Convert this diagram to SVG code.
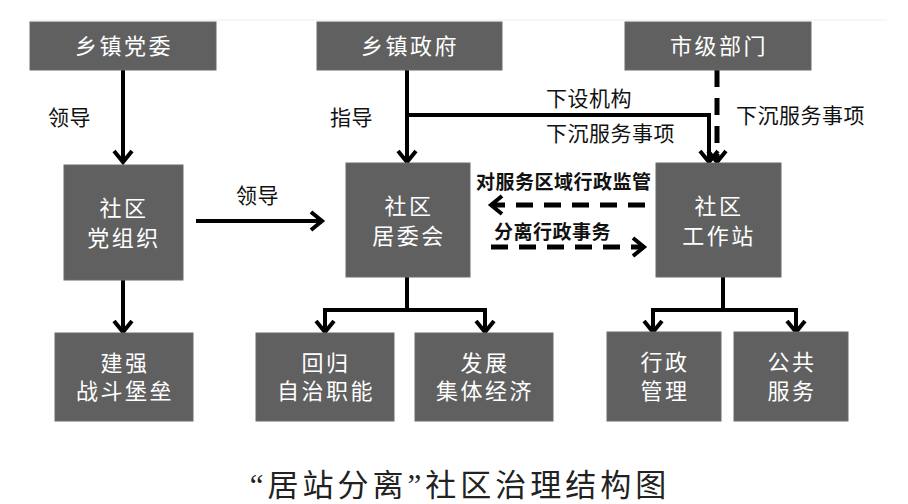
<svg xmlns="http://www.w3.org/2000/svg" width="908" height="504" viewBox="0 0 908 504">
<style>
.box{fill:#606060;stroke:#6a6a6a;stroke-width:1}
.bt{fill:#ffffff;font-family:"Liberation Sans","Noto Sans CJK SC",sans-serif;font-size:22px;letter-spacing:2.5px;text-anchor:middle;dominant-baseline:central}
.lb{fill:#111;font-family:"Liberation Sans","Noto Sans CJK SC",sans-serif;font-size:21px;letter-spacing:0.5px;dominant-baseline:central}
.lbs{fill:#111;font-family:"Liberation Sans","Noto Sans CJK SC",sans-serif;font-size:19px;letter-spacing:0.5px;font-weight:bold;dominant-baseline:central}
.ln{fill:none;stroke:#000;stroke-width:4}
.dl{fill:none;stroke:#000;stroke-width:5;stroke-dasharray:17 11}
.cap{fill:#222;font-family:"Liberation Serif","Noto Sans CJK SC",serif;font-size:31px;letter-spacing:4px;text-anchor:middle;dominant-baseline:central}
</style>
<defs>
<marker id="ah" markerUnits="userSpaceOnUse" markerWidth="24" markerHeight="24" viewBox="0 0 24 24" refX="15" refY="12" orient="auto">
<path d="M4,3 L15,12 L4,21" fill="none" stroke="#000" stroke-width="4"/>
</marker>
</defs>
<rect x="0" y="0" width="908" height="504" fill="#fff"/>
<line x1="30" y1="20" x2="887" y2="20" stroke="#eeeeee" stroke-width="1"/>
<g id="connectors">
<line class="ln" x1="123" y1="70" x2="123" y2="162" marker-end="url(#ah)"/>
<line class="ln" x1="407" y1="70" x2="407" y2="162" marker-end="url(#ah)"/>
<polyline class="ln" points="407,115 709,115 709,162" marker-end="url(#ah)"/>
<line class="dl" x1="717" y1="70" x2="717" y2="162" stroke-dasharray="11 7" marker-end="url(#ah)"/>
<line class="ln" x1="196" y1="221" x2="322" y2="221" marker-end="url(#ah)"/>
<line class="dl" x1="645" y1="205" x2="491" y2="205" marker-end="url(#ah)"/>
<line class="dl" x1="491" y1="247" x2="644" y2="247" marker-end="url(#ah)"/>
<line class="ln" x1="123" y1="280" x2="123" y2="332" marker-end="url(#ah)"/>
<line class="ln" x1="407" y1="277" x2="407" y2="310"/>
<polyline class="ln" points="325,332 325,310 485,310 485,332" marker-end="url(#ah)"/>
<line class="ln" x1="325" y1="312" x2="325" y2="332" marker-end="url(#ah)"/>
<line class="ln" x1="723" y1="277" x2="723" y2="310"/>
<polyline class="ln" points="653,332 653,310 796,310 796,332" marker-end="url(#ah)"/>
<line class="ln" x1="653" y1="312" x2="653" y2="332" marker-end="url(#ah)"/>
<text class="lb" x="48" y="117">领导</text>
<text class="lb" x="330" y="117">指导</text>
<text class="lb" x="236" y="195">领导</text>
<text class="lb" x="546" y="98">下设机构</text>
<text class="lb" x="546" y="133">下沉服务事项</text>
<text class="lb" x="736" y="115">下沉服务事项</text>
<text class="lbs" x="476" y="182">对服务区域行政监管</text>
<text class="lbs" x="494" y="232">分离行政事务</text>
</g>
<g id="n_dangwei"><rect class="box" x="30" y="22" width="186" height="48"/><text class="bt" x="124" y="46">乡镇党委</text></g>
<g id="n_zhengfu"><rect class="box" x="317" y="22" width="185" height="48"/><text class="bt" x="410" y="46">乡镇政府</text></g>
<g id="n_shiji"><rect class="box" x="625" y="22" width="186" height="48"/><text class="bt" x="719" y="46">市级部门</text></g>
<g id="n_dangzuzhi"><rect class="box" x="64" y="165" width="119" height="115"/><text class="bt" x="124" y="208">社区</text><text class="bt" x="124" y="238">党组织</text></g>
<g id="n_juweihui"><rect class="box" x="346" y="163" width="124" height="114"/><text class="bt" x="409" y="206">社区</text><text class="bt" x="409" y="236">居委会</text></g>
<g id="n_gongzuozhan"><rect class="box" x="656" y="163" width="125" height="114"/><text class="bt" x="719" y="206">社区</text><text class="bt" x="719" y="236">工作站</text></g>
<g id="n_jianqiang"><rect class="box" x="55" y="333" width="138" height="88"/><text class="bt" x="125" y="363">建强</text><text class="bt" x="125" y="391">战斗堡垒</text></g>
<g id="n_huigui"><rect class="box" x="256" y="333" width="138" height="88"/><text class="bt" x="326" y="363">回归</text><text class="bt" x="326" y="391">自治职能</text></g>
<g id="n_fazhan"><rect class="box" x="415" y="333" width="138" height="88"/><text class="bt" x="485" y="363">发展</text><text class="bt" x="485" y="391">集体经济</text></g>
<g id="n_xingzheng"><rect class="box" x="607" y="332" width="114" height="89"/><text class="bt" x="665" y="362">行政</text><text class="bt" x="665" y="391">管理</text></g>
<g id="n_gonggong"><rect class="box" x="734" y="332" width="114" height="89"/><text class="bt" x="792" y="362">公共</text><text class="bt" x="792" y="391">服务</text></g>
<text class="cap" x="460" y="485">“居站分离”社区治理结构图</text>
</svg>
